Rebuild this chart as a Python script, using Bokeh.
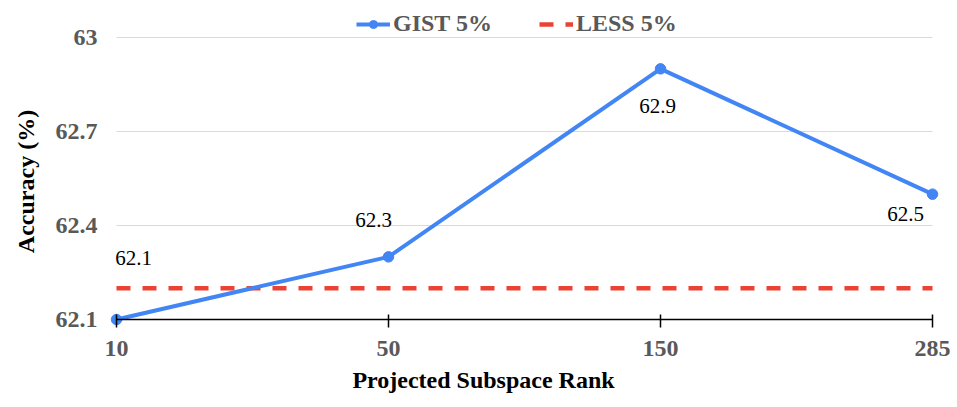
import math
from bokeh.plotting import figure
from bokeh.models import (Range1d, FixedTicker, NumeralTickFormatter, ColumnDataSource,
                          LabelSet, Label, Legend, LegendItem)
from bokeh.core.properties import value
from bokeh.embed import file_html
from bokeh.resources import INLINE

# data
ranks = ["10", "50", "150", "285"]
gist = [62.1, 62.3, 62.9, 62.5]
less = [62.2, 62.2, 62.2, 62.2]
yticks = [62.1, 62.4, 62.7, 63.0]
x_title = "Projected Subspace Rank"
y_title = "Accuracy (%)"

xs = list(range(len(ranks)))
label_dx = [17, -15, -3, -27]
label_dy = [62, 37, -37, -20]

FONT = "Liberation Serif"
GRAY = "#595959"
BLUE = "#4285F4"
RED = "#EA4335"

W, H = 952, 400
# pixel layout of the plotting area (first/last category and y tick span)
PX0, PX1 = 116, 932
PY0, PY1 = 319, 37
ux = (PX1 - PX0) / (len(ranks) - 1)
uy = (PY0 - PY1) / (yticks[-1] - yticks[0])
x_start = -PX0 / ux
x_end = (len(ranks) - 1) + (W - PX1) / ux
y_end = yticks[-1] + PY1 / uy
y_start = yticks[0] - (H - PY0) / uy

p = figure(width=W, height=H, output_backend="svg", toolbar_location=None,
           x_range=Range1d(x_start, x_end), y_range=Range1d(y_start, y_end),
           min_border_left=0, min_border_right=0, min_border_top=0, min_border_bottom=0)
p.outline_line_color = None
p.background_fill_color = "white"
p.border_fill_color = "white"
p.xgrid.grid_line_color = None
p.ygrid.grid_line_color = None

# grid lines over the category span
n = len(yticks)
p.segment(x0=[xs[0]] * n, x1=[xs[-1]] * n, y0=yticks, y1=yticks,
          line_color="#D9D9D9", line_width=1, level="underlay")

src = ColumnDataSource(dict(x=xs, y=gist, txt=[f"{v:.1f}" for v in gist],
                            dx=label_dx, dy=label_dy))
less_src = ColumnDataSource(dict(x=xs, y=less))

r_less = p.line("x", "y", source=less_src, line_color=RED, line_width=4.5,
                line_dash="14 12", line_cap="butt")
r_line = p.line("x", "y", source=src, line_color=BLUE, line_width=4)
r_pts = p.scatter("x", "y", source=src, size=10.5, fill_color=BLUE, line_color=BLUE)

labels = LabelSet(x="x", y="y", text="txt", source=src, x_offset="dx", y_offset="dy",
                  text_align="center", text_baseline="middle",
                  text_font=value(FONT), text_font_size="21px", text_color="black")
p.add_layout(labels)

# axes (fixed inside the plotting area)
p.xaxis.fixed_location = yticks[0]
p.xaxis.bounds = (xs[0], xs[-1])
p.xaxis.ticker = FixedTicker(ticks=xs)
p.xaxis.major_label_overrides = {i: r for i, r in enumerate(ranks)}
p.xaxis.axis_line_color = "black"
p.xaxis.axis_line_width = 1.5
p.xaxis.major_tick_line_color = "black"
p.xaxis.major_tick_line_width = 1.5
p.xaxis.major_tick_in = 5
p.xaxis.major_tick_out = 8
p.xaxis.minor_tick_line_color = None
p.xaxis.major_label_standoff = 13

p.yaxis.fixed_location = (106 - PX0) / ux
p.yaxis.ticker = FixedTicker(ticks=yticks)
p.yaxis.formatter = NumeralTickFormatter(format="0.[0]")
p.yaxis.axis_line_color = None
p.yaxis.major_tick_line_color = None
p.yaxis.minor_tick_line_color = None
p.yaxis.major_tick_in = 0
p.yaxis.major_tick_out = 0
p.yaxis.major_label_standoff = 9

for ax in (p.xaxis, p.yaxis):
    ax.major_label_text_font = FONT
    ax.major_label_text_font_size = "24px"
    ax.major_label_text_font_style = "bold"
    ax.major_label_text_color = GRAY

# axis titles
p.add_layout(Label(x=483, y=H - 379, x_units="screen", y_units="screen", text=x_title,
                   text_align="center", text_baseline="middle", text_font=FONT,
                   text_font_size="24px", text_font_style="bold", text_color="black"))
p.add_layout(Label(x=25, y=H - 181, x_units="screen", y_units="screen", text=y_title,
                   angle=math.pi / 2, text_align="center", text_baseline="middle",
                   text_font=FONT, text_font_size="24px", text_font_style="bold",
                   text_color="black"))

legend = Legend(items=[LegendItem(label="GIST 5%", renderers=[r_line, r_pts]),
                       LegendItem(label="LESS 5%", renderers=[r_less])],
                orientation="horizontal", location=(356, H - 37),
                label_text_font=FONT, label_text_font_size="24px",
                label_text_font_style="bold", label_text_color=GRAY,
                glyph_width=34, glyph_height=20, label_standoff=3, spacing=47,
                padding=4, margin=0, border_line_color=None, background_fill_alpha=0)
p.add_layout(legend)

open("out.html", "w").write(file_html(p, INLINE))
